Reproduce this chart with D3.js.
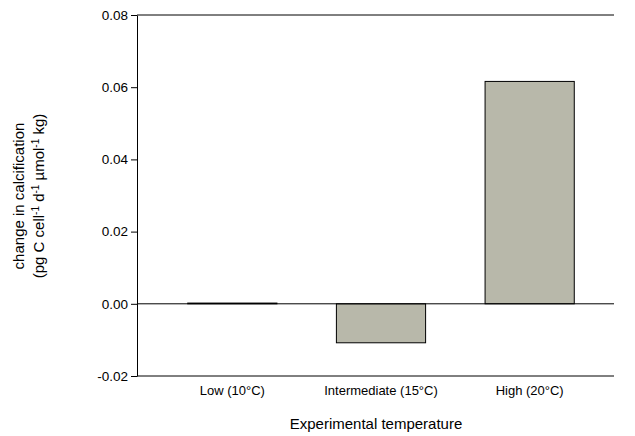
<!DOCTYPE html>
<html><head><meta charset="utf-8">
<script src="https://cdn.jsdelivr.net/npm/d3@7"></script>
<style>body{margin:0;background:#fff}</style>
</head><body>
<svg id="chart" width="635" height="436"></svg>
<script>
var categories = ["Low (10°C)", "Intermediate (15°C)", "High (20°C)"];
var values = [0.0002, -0.0108, 0.0616];
var yTicks = [-0.02, 0, 0.02, 0.04, 0.06, 0.08];

var svg = d3.select("#chart");
var font = "Arial, 'Liberation Sans', sans-serif";
var plotLeft = 137, plotRight = 614, plotTop = 15, plotBottom = 376;

var x = d3.scaleBand().domain(categories).range([158, 604]).paddingInner(0.4).paddingOuter(0.2);
var y = d3.scaleLinear().domain([-0.02, 0.08]).range([plotBottom, plotTop]);

// Rahmen oben und unten
svg.append("line").attr("x1", plotLeft).attr("x2", plotRight).attr("y1", plotTop).attr("y2", plotTop).attr("stroke", "#000");
svg.append("line").attr("x1", plotLeft).attr("x2", plotRight).attr("y1", plotBottom).attr("y2", plotBottom).attr("stroke", "#000");

svg.selectAll("rect.bar").data(values).enter().append("rect")
    .attr("class", "bar")
    .attr("x", (d, i) => x(categories[i]))
    .attr("width", x.bandwidth())
    .attr("y", d => y(Math.max(0, d)))
    .attr("height", d => Math.abs(y(d) - y(0)))
    .attr("fill", "#b8b8aa")
    .attr("stroke", "#000").attr("stroke-width", 1);

// Nulllinie
svg.append("line").attr("x1", plotLeft).attr("x2", plotRight).attr("y1", y(0)).attr("y2", y(0)).attr("stroke", "#000");

var yAxis = svg.append("g").attr("transform", "translate(" + plotLeft + ",0)")
    .call(d3.axisLeft(y).tickValues(yTicks).tickFormat(d => d.toFixed(2)).tickSize(6).tickSizeOuter(0));
yAxis.selectAll("text").style("font-family", font).style("font-size", "13.5px").attr("fill", "#000");
yAxis.selectAll("line,path").attr("stroke", "#000");

svg.selectAll("text.xl").data(categories).enter().append("text")
    .attr("class", "xl")
    .attr("x", d => x(d) + x.bandwidth() / 2)
    .attr("y", 395)
    .attr("text-anchor", "middle")
    .style("font-family", font).style("font-size", "13px")
    .text(d => d);

svg.append("text").attr("x", 376).attr("y", 429).attr("text-anchor", "middle")
    .style("font-family", font).style("font-size", "15px").text("Experimental temperature");

var yt = svg.append("g").attr("transform", "translate(0,196) rotate(-90)");
yt.append("text").attr("x", 0).attr("y", 24).attr("text-anchor", "middle")
    .style("font-family", font).style("font-size", "15px").text("change in calcification");
var t2 = yt.append("text").attr("x", 0).attr("y", 44).attr("text-anchor", "middle")
    .style("font-family", font).style("font-size", "15px");
t2.append("tspan").text("(pg C cell");
t2.append("tspan").attr("baseline-shift", "super").style("font-size", "10px").text("-1");
t2.append("tspan").text(" d");
t2.append("tspan").attr("baseline-shift", "super").style("font-size", "10px").text("-1");
t2.append("tspan").text(" µmol");
t2.append("tspan").attr("baseline-shift", "super").style("font-size", "10px").text("-1");
t2.append("tspan").text(" kg)");
</script>
</body></html>
